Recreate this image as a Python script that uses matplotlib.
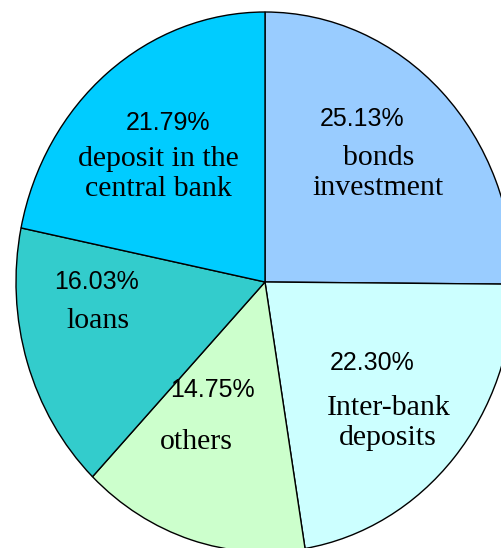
import matplotlib
matplotlib.use("Agg")
import matplotlib.pyplot as plt

# Asset structure shares (percent), clockwise from 12 o'clock
categories = ["bonds\ninvestment", "Inter-bank\ndeposits", "others", "loans",
              "deposit in the\ncentral bank"]
shares = [25.13, 22.30, 14.75, 16.03, 21.79]
colors = ["#99CCFF", "#CCFFFF", "#CCFFCC", "#33CCCC", "#00CCFF"]

# Label anchor points (data units, pie radius = 1)
pct_pos = [(0.39, 0.605), (0.43, -0.30), (-0.21, -0.40), (-0.676, 0.0), (-0.39, 0.59)]
name_pos = [(0.455, 0.403), (0.495, -0.522), (-0.275, -0.593), (-0.67, -0.145), (-0.43, 0.401)]

W, H = 501, 548
fig = plt.figure(figsize=(W / 100, H / 100), dpi=100)
ax = fig.add_axes([0, 0, 1, 1])

ax.pie(shares, colors=colors, startangle=90, counterclock=False,
       radius=1.0, center=(0, 0),
       wedgeprops=dict(edgecolor="black", linewidth=1.0))

# Stretch the pie into the slightly tall ellipse of the original layout
rx, ry = 249.0, 270.0   # pixels per unit
cx, cy = 265.0, 282.0   # centre, pixels from top-left
ax.set_aspect("auto")
ax.set_xlim(-cx / rx, (W - cx) / rx)
ax.set_ylim(-(H - cy) / ry, cy / ry)
ax.axis("off")

for val, (px, py) in zip(shares, pct_pos):
    ax.text(px, py, f"{val:.2f}%", ha="center", va="center",
            fontsize=18, family="Liberation Sans", color="black")

for name, (px, py) in zip(categories, name_pos):
    ax.text(px, py, name, ha="center", va="center", fontsize=21.5,
            family="Liberation Serif", color="black", linespacing=1.18)

fig.savefig("out.png", dpi=100)
